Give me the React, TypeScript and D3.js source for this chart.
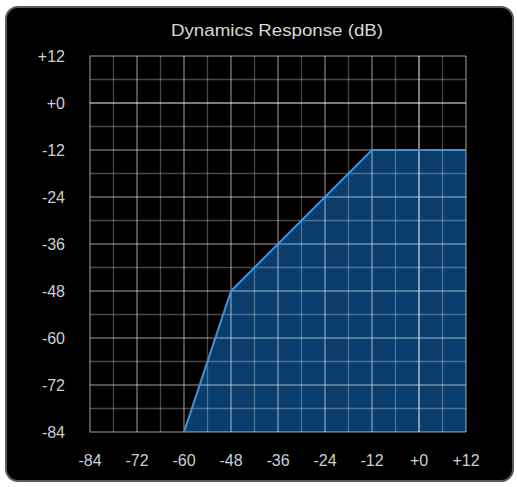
import React from "react";
import { scaleLinear, area, line, range } from "d3";

// transfer curve points: [input dB, output dB]
const curveIn = [-60, -48, -12, 12];
const curveOut = [-84, -48, -12, -12];

const tickValues = [-84, -72, -60, -48, -36, -24, -12, 0, 12];
const tickLabels = ["-84", "-72", "-60", "-48", "-36", "-24", "-12", "+0", "+12"];
const minorValues = range(-78, 12, 12);

const title = "Dynamics Response (dB)";

const W = 517;
const H = 487;
const PLOT_LEFT = 90;
const PLOT_RIGHT = 466;
const PLOT_TOP = 56;
const PLOT_BOTTOM = 432;

export default function App() {
  const x = scaleLinear().domain([-84, 12]).range([PLOT_LEFT, PLOT_RIGHT]);
  const y = scaleLinear().domain([-84, 12]).range([PLOT_BOTTOM, PLOT_TOP]);

  const pts: [number, number][] = curveIn.map((v, i) => [v, curveOut[i]]);

  const areaFn = area<[number, number]>()
    .x(d => x(d[0]))
    .y0(y(-84))
    .y1(d => y(d[1]));
  const lineFn = line<[number, number]>()
    .x(d => x(d[0]))
    .y(d => y(d[1]));

  const font = "'Liberation Sans', Arial, sans-serif";

  return (
    <svg
      width={W}
      height={H}
      style={{ position: "absolute", left: 0, top: 0, background: "#fff" }}
    >
      <rect
        x={6}
        y={7}
        width={507}
        height={474}
        rx={12}
        fill="#000"
        stroke="#5a5a5a"
        strokeWidth={2}
      />

      <text
        x={277}
        y={36}
        fill="#d8d8d8"
        fontSize={16}
        fontFamily={font}
        textAnchor="middle"
        textLength={212}
        lengthAdjust="spacingAndGlyphs"
      >
        {title}
      </text>

      <path d={areaFn(pts)!} fill="#0b3d6c" />

      {/* minor grid */}
      <g stroke="#fff" strokeOpacity={0.28} strokeWidth={1.3}>
        {minorValues.map(v => (
          <line key={"mv" + v} x1={x(v)} x2={x(v)} y1={PLOT_TOP} y2={PLOT_BOTTOM} />
        ))}
        {minorValues.map(v => (
          <line key={"mh" + v} y1={y(v)} y2={y(v)} x1={PLOT_LEFT} x2={PLOT_RIGHT} />
        ))}
      </g>
      {/* major grid */}
      <g stroke="#fff" strokeWidth={1.5}>
        {tickValues.map(v => (
          <line
            key={"v" + v}
            x1={x(v)}
            x2={x(v)}
            y1={PLOT_TOP}
            y2={PLOT_BOTTOM}
            strokeOpacity={v === 0 ? 0.65 : 0.42}
          />
        ))}
        {tickValues.map(v => (
          <line
            key={"h" + v}
            y1={y(v)}
            y2={y(v)}
            x1={PLOT_LEFT}
            x2={PLOT_RIGHT}
            strokeOpacity={v === 0 ? 0.65 : 0.42}
          />
        ))}
      </g>

      <path d={lineFn(pts)!} fill="none" stroke="#3f93dc" strokeWidth={2} />

      <g fill="#cfcfcf" fontSize={16} fontFamily={font}>
        {tickValues.map((v, i) => (
          <text key={"yl" + v} x={65} y={y(v)} dy="0.35em" textAnchor="end">
            {tickLabels[i]}
          </text>
        ))}
        {tickValues.map((v, i) => (
          <text key={"xl" + v} x={x(v)} y={466} textAnchor="middle">
            {tickLabels[i]}
          </text>
        ))}
      </g>
    </svg>
  );
}
